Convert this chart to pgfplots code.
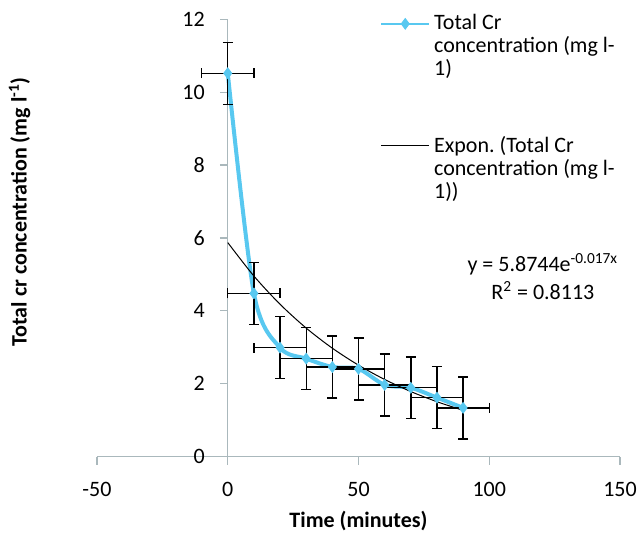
\documentclass[border=0pt]{standalone}
\usepackage{fontspec}
\setmainfont{Carlito}
\usepackage{pgfplots}
\pgfplotsset{compat=1.18}
\definecolor{crblue}{RGB}{88,200,240}
\definecolor{axisgray}{RGB}{170,184,188}
\frenchspacing
\begin{document}
\begin{tikzpicture}
\begin{axis}[
  scale only axis,
  width=261.5pt, height=218.7pt,
  xmin=-50, xmax=150, ymin=0, ymax=12,
  axis lines=middle,
  axis line style={-, draw=axisgray, line width=0.6pt},
  every inner x axis line/.append style={-},
  every inner y axis line/.append style={-},
  every tick/.style={draw=axisgray, line width=0.6pt},
  tick align=outside,
  major tick length=4pt,
  hide obscured x ticks=false, hide obscured y ticks=false,
  xtick={-50,0,50,100,150},
  xticklabels={-50,0,50,100,150},
  ytick={0,2,4,6,8,10,12},
  yticklabels={0,2,4,6,8,10,12},
  ticklabel style={font=\fontsize{11}{13}\selectfont, text=black},
  xticklabel style={yshift=-5pt},
  yticklabel style={xshift=-4pt},
  every axis x label/.style={at={(axis description cs:0.5,-0.147)}, anchor=center},
  every axis y label/.style={at={(axis description cs:-0.148,0.56)}, rotate=90, anchor=center},
  xlabel={\fontsize{11}{13}\selectfont\bfseries Time (minutes)},
  ylabel={\fontsize{11}{13}\selectfont\bfseries Total cr concentration (mg l\textsuperscript{-1})},
  clip=false,
  legend style={at={(axis description cs:0.541,1.0206)}, anchor=north west, draw=none, fill=none,
    font=\fontsize{11}{11.5}\selectfont, row sep=24.5pt, inner sep=0pt, cells={align=left}},
  legend cell align=left,
  legend image code/.code={\draw[mark repeat=2,mark phase=2,#1] plot coordinates {(0cm,11.5pt) (0.42cm,11.5pt) (0.84cm,11.5pt)};},
]
\coordinate (bbl) at (axis description cs:-0.1855,-0.1744);
\coordinate (btr) at (axis description cs:1.0325,1.0441);

\addplot[crblue, line width=2pt, smooth, mark=diamond*, mark size=2.6pt,
  mark options={solid, fill=crblue, draw=crblue, line width=0.5pt},
  legend image post style={line width=1pt},
  error bars/.cd, x dir=both, x explicit, y dir=both, y explicit,
  error bar style={black, line width=0.7pt},
  error mark options={rotate=90, black, line width=0.7pt, mark size=2.5pt}]
coordinates {
  (0,10.52) +- (10,0.85)
  (10,4.48) +- (10,0.85)
  (20,2.99) +- (10,0.85)
  (30,2.69) +- (10,0.85)
  (40,2.46) +- (10,0.85)
  (50,2.41) +- (10,0.85)
  (60,1.97) +- (10,0.85)
  (70,1.89) +- (10,0.85)
  (80,1.62) +- (10,0.85)
  (90,1.34) +- (10,0.85)
};
\addlegendentry{Total Cr\\concentration (mg l-\\1)}

\addplot[black, line width=0.5pt, smooth] coordinates {
  (0,5.874)(10,4.956)(20,4.182)(30,3.528)(40,2.976)(50,2.511)(60,2.118)(70,1.787)(80,1.508)(90,1.272)
};
\addlegendentry{Expon. (Total Cr\\concentration (mg l-\\1))}

\node[align=center, font=\fontsize{11}{14}\selectfont] at (axis cs:120.5,4.95)
  {y = 5.8744e\textsuperscript{-0.017x}\\R\textsuperscript{2} = 0.8113};
\end{axis}
\pgfresetboundingbox
\path (bbl) rectangle (btr);
\end{tikzpicture}
\end{document}
